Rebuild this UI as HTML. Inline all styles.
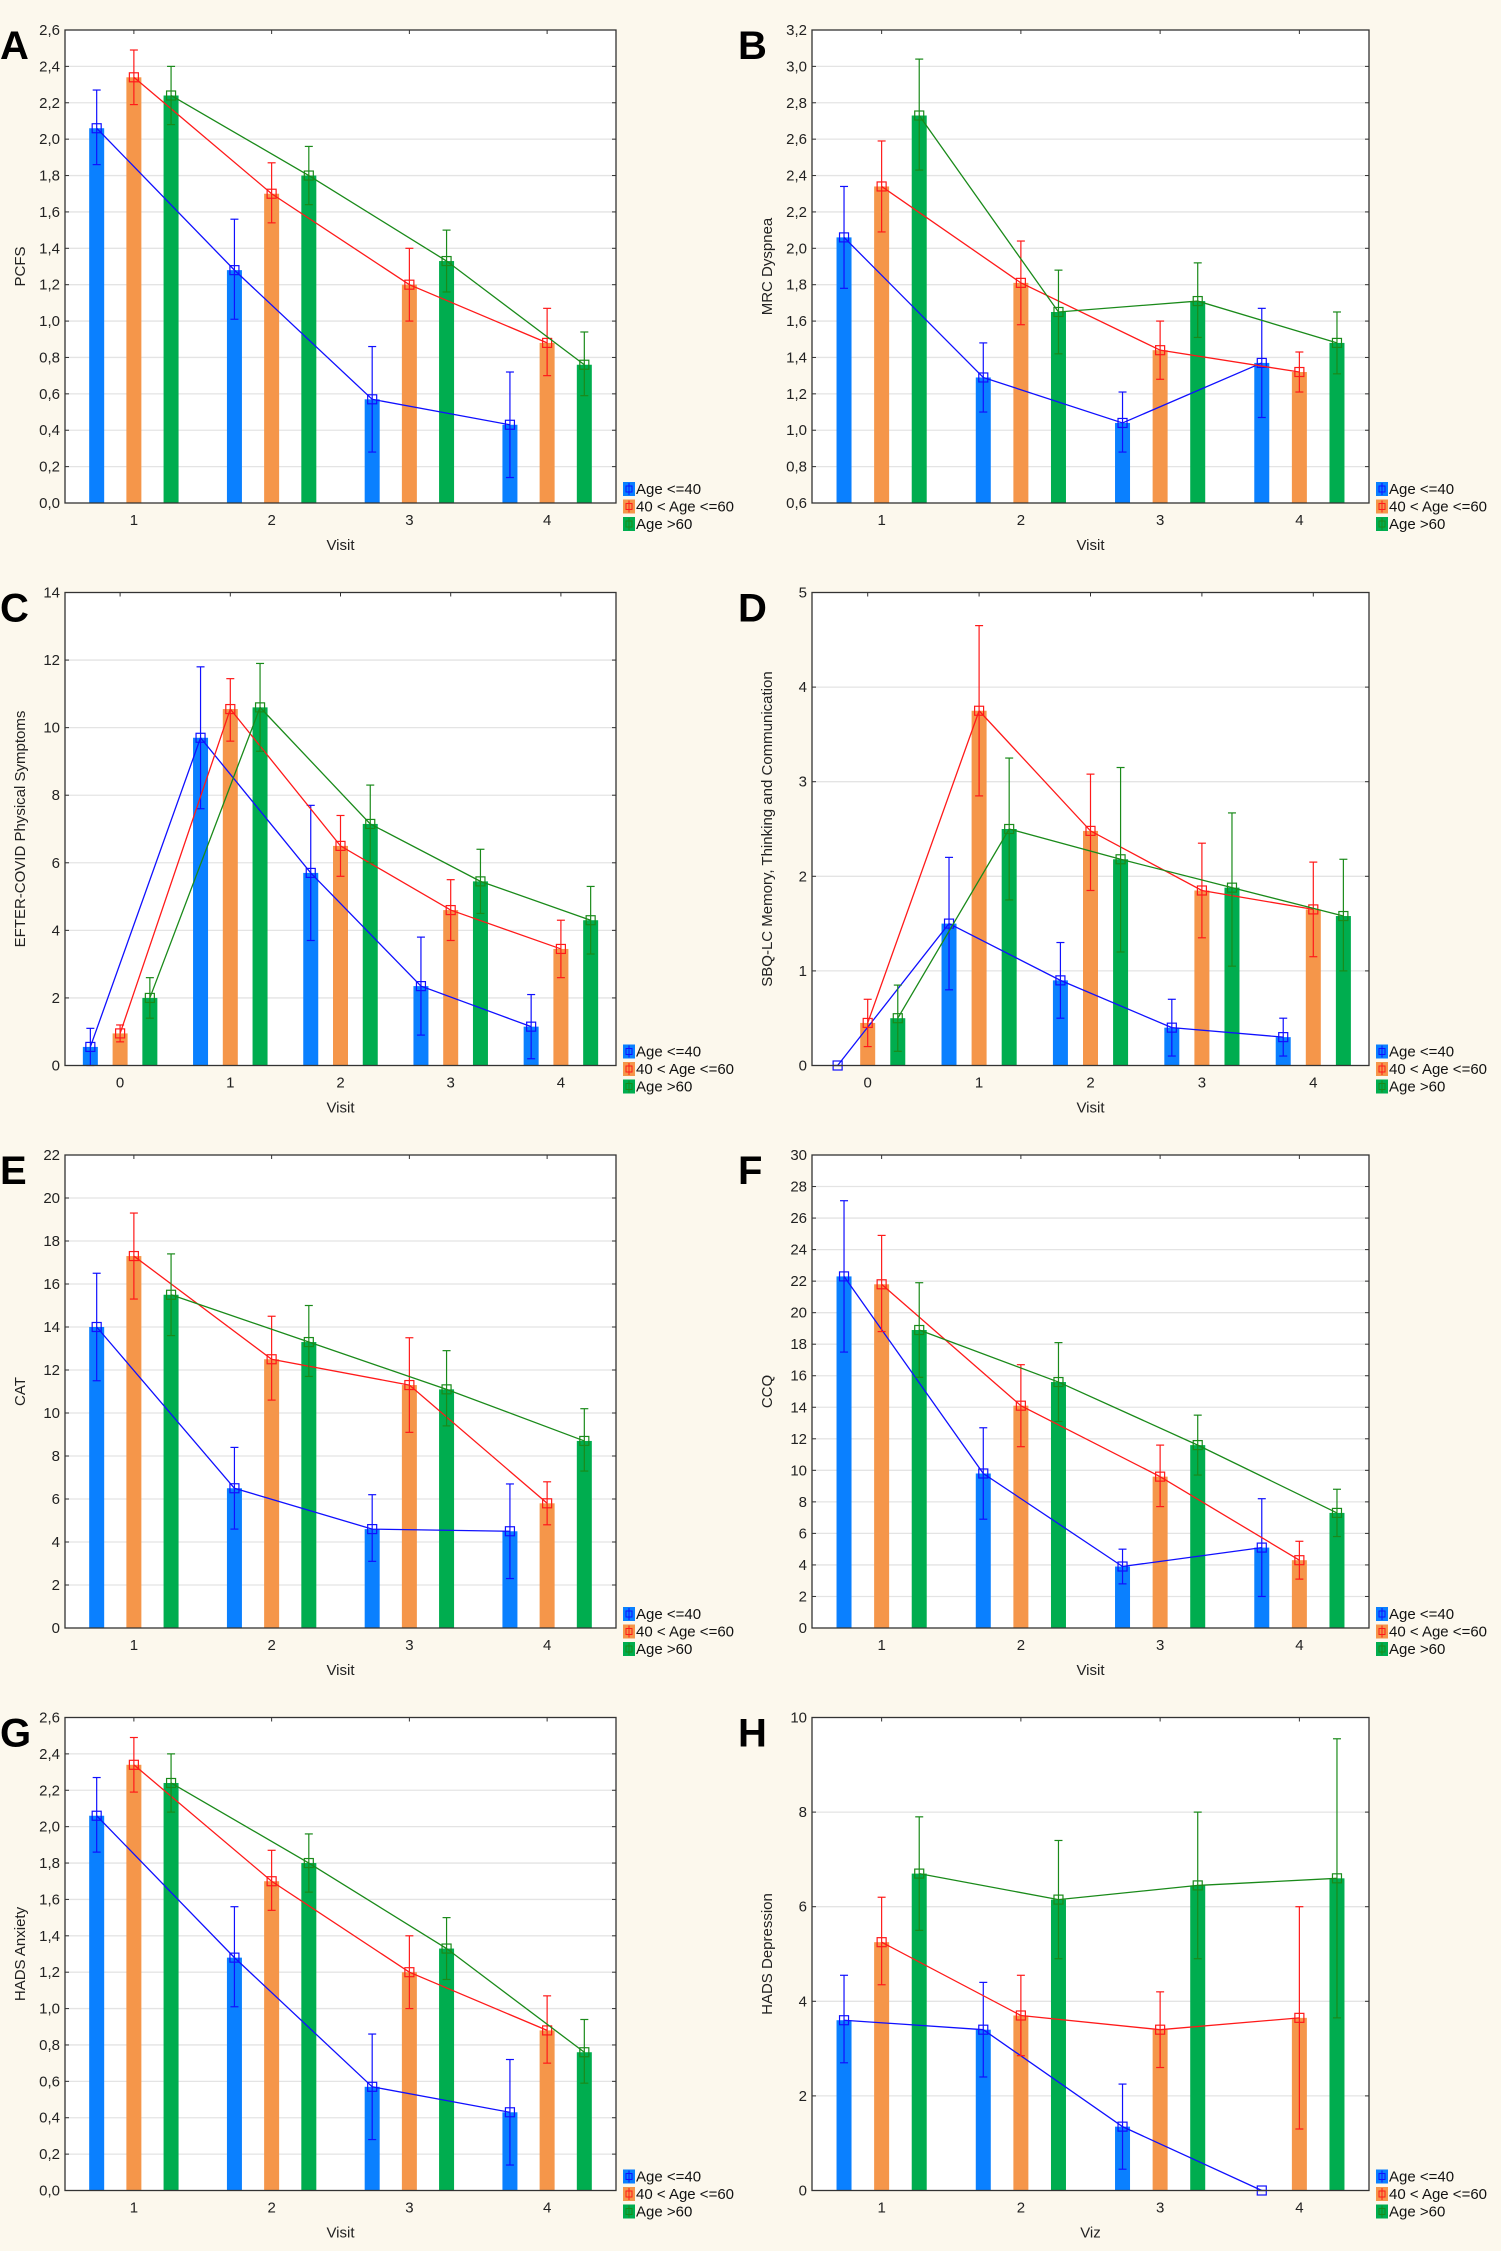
<!DOCTYPE html>
<html><head><meta charset="utf-8">
<style>
html,body{margin:0;padding:0;background:#fcf8ed;}
svg{display:block;font-family:"Liberation Sans Narrow","Liberation Sans",sans-serif;}
</style></head>
<body>
<svg id="fig" width="1501" height="2251" viewBox="0 0 1501 2251"></svg>
<script>
// ---- Data (means, lower CI, upper CI) per panel; series order: age<=40, 40-60, >60 ----
const A_cats=[1,2,3,4];
const A_mean=[[2.06,1.28,0.57,0.43],[2.34,1.70,1.20,0.88],[2.24,1.80,1.33,0.76]];
const A_lo=[[1.86,1.01,0.28,0.14],[2.19,1.54,1.00,0.70],[2.08,1.64,1.16,0.59]];
const A_hi=[[2.27,1.56,0.86,0.72],[2.49,1.87,1.40,1.07],[2.40,1.96,1.50,0.94]];
const A_ticks=["0,0","0,2","0,4","0,6","0,8","1,0","1,2","1,4","1,6","1,8","2,0","2,2","2,4","2,6"];

const B_cats=[1,2,3,4];
const B_mean=[[2.06,1.29,1.04,1.37],[2.34,1.81,1.44,1.32],[2.73,1.65,1.71,1.48]];
const B_lo=[[1.78,1.10,0.88,1.07],[2.09,1.58,1.28,1.21],[2.43,1.42,1.51,1.31]];
const B_hi=[[2.34,1.48,1.21,1.67],[2.59,2.04,1.60,1.43],[3.04,1.88,1.92,1.65]];
const B_ticks=["0,6","0,8","1,0","1,2","1,4","1,6","1,8","2,0","2,2","2,4","2,6","2,8","3,0","3,2"];

const C_cats=[0,1,2,3,4];
const C_mean=[[0.55,9.7,5.7,2.35,1.15],[0.95,10.55,6.5,4.6,3.45],[2.0,10.6,7.15,5.45,4.3]];
const C_lo=[[0,7.6,3.7,0.9,0.2],[0.7,9.6,5.6,3.7,2.6],[1.4,9.3,6.0,4.5,3.3]];
const C_hi=[[1.1,11.8,7.7,3.8,2.1],[1.2,11.45,7.4,5.5,4.3],[2.6,11.9,8.3,6.4,5.3]];
const C_ticks=["0","2","4","6","8","10","12","14"];

const D_cats=[0,1,2,3,4];
const D_mean=[[0.0,1.5,0.9,0.4,0.3],[0.45,3.75,2.48,1.85,1.65],[0.5,2.5,2.18,1.88,1.58]];
const D_lo=[[0,0.8,0.5,0.1,0.1],[0.2,2.85,1.85,1.35,1.15],[0.15,1.75,1.2,1.05,1.0]];
const D_hi=[[0,2.2,1.3,0.7,0.5],[0.7,4.65,3.08,2.35,2.15],[0.85,3.25,3.15,2.67,2.18]];
const D_ticks=["0","1","2","3","4","5"];

const E_cats=[1,2,3,4];
const E_mean=[[14.0,6.5,4.6,4.5],[17.3,12.5,11.3,5.8],[15.5,13.3,11.1,8.7]];
const E_lo=[[11.5,4.6,3.1,2.3],[15.3,10.6,9.1,4.8],[13.6,11.7,9.4,7.3]];
const E_hi=[[16.5,8.4,6.2,6.7],[19.3,14.5,13.5,6.8],[17.4,15.0,12.9,10.2]];
const E_ticks=["0","2","4","6","8","10","12","14","16","18","20","22"];

const F_cats=[1,2,3,4];
const F_mean=[[22.3,9.8,3.9,5.1],[21.8,14.1,9.6,4.3],[18.9,15.6,11.6,7.3]];
const F_lo=[[17.5,6.9,2.8,2.0],[18.8,11.5,7.7,3.1],[15.9,13.1,9.7,5.8]];
const F_hi=[[27.1,12.7,5.0,8.2],[24.9,16.7,11.6,5.5],[21.9,18.1,13.5,8.8]];
const F_ticks=["0","2","4","6","8","10","12","14","16","18","20","22","24","26","28","30"];

const G_cats=[1,2,3,4];
const G_mean=[[2.06,1.28,0.57,0.43],[2.34,1.70,1.20,0.88],[2.24,1.80,1.33,0.76]];
const G_lo=[[1.86,1.01,0.28,0.14],[2.19,1.54,1.00,0.70],[2.08,1.64,1.16,0.59]];
const G_hi=[[2.27,1.56,0.86,0.72],[2.49,1.87,1.40,1.07],[2.40,1.96,1.50,0.94]];
const G_ticks=A_ticks;

const H_cats=[1,2,3,4];
const H_mean=[[3.6,3.4,1.35,0.0],[5.25,3.7,3.4,3.65],[6.7,6.15,6.45,6.6]];
const H_lo=[[2.7,2.4,0.45,0],[4.35,2.85,2.6,1.3],[5.5,4.9,4.9,3.65]];
const H_hi=[[4.55,4.4,2.25,0],[6.2,4.55,4.2,6.0],[7.9,7.4,8.0,9.55]];
const H_ticks=["0","2","4","6","8","10"];

const seriesNames=["Age <=40","40 < Age <=60","Age >60"];

const NS="http://www.w3.org/2000/svg";
const svg=document.getElementById('fig');
function mk(tag,attrs,parent,text){const e=document.createElementNS(NS,tag);for(const k in attrs)e.setAttribute(k,attrs[k]);if(text!==undefined)e.textContent=text;(parent||svg).appendChild(e);return e;}

const barFill=["#0a80ff","#f5964a","#00ad4f"];
const lineCol=["#1010ff","#ff1a1a","#1a8a1a"];

const panels=[
 {L:"A",cats:A_cats,mean:A_mean,lo:A_lo,hi:A_hi,ticks:A_ticks,ymin:0,ymax:2.6,ytitle:"PCFS",xt:"Visit",col:0,row:0},
 {L:"B",cats:B_cats,mean:B_mean,lo:B_lo,hi:B_hi,ticks:B_ticks,ymin:0.6,ymax:3.2,ytitle:"MRC Dyspnea",xt:"Visit",col:1,row:0},
 {L:"C",cats:C_cats,mean:C_mean,lo:C_lo,hi:C_hi,ticks:C_ticks,ymin:0,ymax:14,ytitle:"EFTER-COVID Physical Symptoms",xt:"Visit",col:0,row:1},
 {L:"D",cats:D_cats,mean:D_mean,lo:D_lo,hi:D_hi,ticks:D_ticks,ymin:0,ymax:5,ytitle:"SBQ-LC Memory, Thinking and Communication",xt:"Visit",col:1,row:1},
 {L:"E",cats:E_cats,mean:E_mean,lo:E_lo,hi:E_hi,ticks:E_ticks,ymin:0,ymax:22,ytitle:"CAT",xt:"Visit",col:0,row:2},
 {L:"F",cats:F_cats,mean:F_mean,lo:F_lo,hi:F_hi,ticks:F_ticks,ymin:0,ymax:30,ytitle:"CCQ",xt:"Visit",col:1,row:2},
 {L:"G",cats:G_cats,mean:G_mean,lo:G_lo,hi:G_hi,ticks:G_ticks,ymin:0,ymax:2.6,ytitle:"HADS Anxiety",xt:"Visit",col:0,row:3},
 {L:"H",cats:H_cats,mean:H_mean,lo:H_lo,hi:H_hi,ticks:H_ticks,ymin:0,ymax:10,ytitle:"HADS Depression",xt:"Viz",col:1,row:3}
];

panels.forEach(p=>{
 const left=p.col===0?65:812, right=p.col===0?616:1369;
 const top=30+p.row*562.5, bottom=top+473;
 const g=mk('g',{});
 
 
 const n=p.cats.length;
 const xs=i=>left+(i+0.5)*(right-left)/n;
 const ys=v=>bottom-(v-p.ymin)/(p.ymax-p.ymin)*(bottom-top);
 const step=(right-left)/n;
 const off=step*0.27;
 mk('rect',{x:left,y:top,width:right-left,height:bottom-top,fill:"#fff"},g);
 // grid + ticks
 p.ticks.forEach((t,k)=>{
   const v=p.ymin+k*(p.ymax-p.ymin)/(p.ticks.length-1);
   const y=ys(v);
   if(k>0&&k<p.ticks.length-1) mk('line',{x1:left,x2:right,y1:y,y2:y,stroke:"#e4e4e4","stroke-width":1.3},g);
   mk('line',{x1:left,x2:left+4,y1:y,y2:y,stroke:"#333"},g);
   mk('line',{x1:right-4,x2:right,y1:y,y2:y,stroke:"#333"},g);
   const tl=mk('text',{x:left-5,y:y+5,"text-anchor":"end","font-size":15,fill:"#222"},g,t);
   
   
 });
 p.cats.forEach((c,i)=>{
   const x=xs(i);
   mk('line',{x1:x,x2:x,y1:bottom,y2:bottom-4,stroke:"#333"},g);
   mk('line',{x1:x,x2:x,y1:top,y2:top+4,stroke:"#333"},g);
   const xl=mk('text',{x:x,y:bottom+22,"text-anchor":"middle","font-size":15,fill:"#222"},g,String(c));
   
   
 });
 // bars
 for(let s=0;s<3;s++){
   p.cats.forEach((c,i)=>{
     const x=xs(i)+(s-1)*off;
     const y=ys(p.mean[s][i]);
     const b=mk('rect',{x:x-7.5,y:y,width:15,height:Math.max(0,bottom-y),fill:barFill[s]},g);
     
     
   });
 }
 // lines, error bars, markers
 for(let s=0;s<3;s++){
   const pts=p.cats.map((c,i)=>(xs(i)+(s-1)*off)+","+ys(p.mean[s][i])).join(" ");
   const pl=mk('polyline',{points:pts,fill:"none",stroke:lineCol[s],"stroke-width":1.3},g);
   
   
   p.cats.forEach((c,i)=>{
     const x=xs(i)+(s-1)*off;
     const yl=ys(p.lo[s][i]), yh=ys(p.hi[s][i]), ym=ys(p.mean[s][i]);
     mk('line',{x1:x,x2:x,y1:yl,y2:yh,stroke:lineCol[s],"stroke-width":1.2},g);
     mk('line',{x1:x-4,x2:x+4,y1:yl,y2:yl,stroke:lineCol[s],"stroke-width":1.2},g);
     mk('line',{x1:x-4,x2:x+4,y1:yh,y2:yh,stroke:lineCol[s],"stroke-width":1.2},g);
     const m=mk('rect',{x:x-4.5,y:ym-4.5,width:9,height:9,fill:"none",stroke:lineCol[s],"stroke-width":1.2},g);
     
     
   });
 }
 mk('rect',{x:left,y:top,width:right-left,height:bottom-top,fill:"none",stroke:"#333","stroke-width":1.3},g);
 // axis titles
 const xt=mk('text',{x:(left+right)/2,y:bottom+47,"text-anchor":"middle","font-size":15,fill:"#222"},g,p.xt);
 
 
 const yx=left-40, yy=(top+bottom)/2;
 const yt=mk('text',{x:yx,y:yy,"text-anchor":"middle","font-size":15,fill:"#222",transform:`rotate(-90 ${yx} ${yy})`},g,p.ytitle);
 
 
 // legend
 for(let s=0;s<3;s++){
   const ly=bottom-14+s*17.5;
   const lx=right+7;
   const le=mk('g',{},g);
   
   
   mk('rect',{x:lx,y:ly-7,width:12,height:14,fill:barFill[s]},le);
   mk('line',{x1:lx+6,x2:lx+6,y1:ly-6,y2:ly+6,stroke:lineCol[s]},le);
   mk('rect',{x:lx+3,y:ly-3,width:6,height:6,fill:"none",stroke:lineCol[s]},le);
   mk('text',{x:lx+13,y:ly+5,"font-size":15,fill:"#111"},le,seriesNames[s]);
 }
 // panel letter
 const pl=mk('text',{x:p.col===0?0:738,y:top+29,"font-size":40,"font-weight":"bold","font-family":"Liberation Sans, sans-serif",fill:"#000"},g,p.L);
 
 
});
</script>
</body></html>
